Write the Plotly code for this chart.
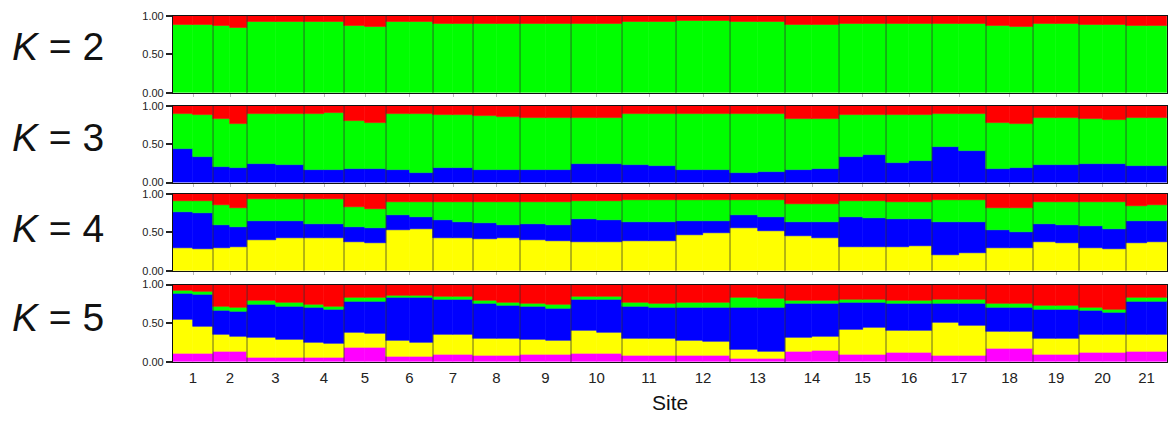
import plotly.graph_objects as go

# ---------------- data ----------------
sites = [str(i) for i in range(1, 22)]
# individuals per site (estimated from block widths)
n_ind = [40, 34, 57, 40, 42, 47, 40, 47, 51, 51, 54, 54, 55, 54, 47, 46, 54, 47, 46, 47, 41]

# cumulative membership boundaries, [first half of site, second half of site]
# K = 2 : green (bottom) upper bound; red fills to 1
k2_green = [[0.88, 0.88], [0.87, 0.84], [0.92, 0.92], [0.92, 0.92], [0.87, 0.86], [0.92, 0.92], [0.90, 0.90],
            [0.90, 0.89], [0.89, 0.89], [0.90, 0.90], [0.92, 0.92], [0.93, 0.93], [0.92, 0.92], [0.88, 0.88],
            [0.89, 0.89], [0.89, 0.89], [0.89, 0.89], [0.87, 0.86], [0.89, 0.89], [0.88, 0.88], [0.87, 0.87]]

# K = 3 : blue (bottom), green, red
k3_blue = [[0.44, 0.34], [0.21, 0.19], [0.25, 0.23], [0.17, 0.17], [0.18, 0.18], [0.16, 0.13], [0.19, 0.19],
           [0.16, 0.16], [0.17, 0.17], [0.25, 0.24], [0.23, 0.22], [0.16, 0.16], [0.13, 0.14], [0.17, 0.18],
           [0.33, 0.36], [0.26, 0.28], [0.46, 0.41], [0.18, 0.19], [0.23, 0.23], [0.24, 0.24], [0.22, 0.22]]
k3_green = [[0.89, 0.88], [0.83, 0.77], [0.90, 0.90], [0.90, 0.91], [0.80, 0.78], [0.90, 0.90], [0.88, 0.88],
            [0.87, 0.86], [0.85, 0.85], [0.85, 0.85], [0.89, 0.89], [0.90, 0.90], [0.90, 0.90], [0.83, 0.83],
            [0.88, 0.88], [0.88, 0.88], [0.89, 0.89], [0.78, 0.77], [0.85, 0.85], [0.83, 0.82], [0.85, 0.85]]

# K = 4 : yellow (bottom), blue, green, red
k4_yellow = [[0.30, 0.28], [0.30, 0.31], [0.40, 0.42], [0.42, 0.42], [0.37, 0.36], [0.53, 0.55], [0.42, 0.42],
             [0.41, 0.42], [0.40, 0.39], [0.38, 0.38], [0.39, 0.39], [0.46, 0.49], [0.56, 0.52], [0.45, 0.43],
             [0.31, 0.31], [0.31, 0.32], [0.21, 0.23], [0.29, 0.29], [0.38, 0.36], [0.29, 0.28], [0.36, 0.37]]
k4_blue = [[0.76, 0.75], [0.60, 0.57], [0.65, 0.65], [0.61, 0.61], [0.57, 0.56], [0.72, 0.70], [0.66, 0.64],
           [0.62, 0.60], [0.61, 0.60], [0.67, 0.66], [0.64, 0.64], [0.65, 0.65], [0.72, 0.70], [0.63, 0.63],
           [0.70, 0.69], [0.67, 0.67], [0.63, 0.63], [0.53, 0.50], [0.61, 0.59], [0.58, 0.55], [0.65, 0.65]]
k4_green = [[0.91, 0.91], [0.86, 0.82], [0.93, 0.93], [0.93, 0.93], [0.83, 0.81], [0.90, 0.90], [0.90, 0.90],
            [0.89, 0.89], [0.90, 0.89], [0.91, 0.91], [0.92, 0.92], [0.92, 0.92], [0.92, 0.92], [0.87, 0.87],
            [0.91, 0.91], [0.90, 0.90], [0.92, 0.92], [0.82, 0.82], [0.90, 0.90], [0.89, 0.89], [0.85, 0.86]]

# K = 5 : magenta (bottom), yellow, blue, green, red
k5_magenta = [[0.11, 0.11], [0.13, 0.14], [0.06, 0.06], [0.06, 0.06], [0.18, 0.18], [0.07, 0.07], [0.10, 0.10],
              [0.08, 0.08], [0.09, 0.09], [0.11, 0.11], [0.08, 0.08], [0.08, 0.08], [0.04, 0.04], [0.14, 0.15],
              [0.09, 0.09], [0.12, 0.12], [0.08, 0.08], [0.17, 0.17], [0.09, 0.09], [0.12, 0.12], [0.14, 0.14]]
k5_yellow = [[0.55, 0.46], [0.35, 0.33], [0.31, 0.29], [0.25, 0.24], [0.38, 0.37], [0.27, 0.25], [0.35, 0.36],
             [0.30, 0.30], [0.29, 0.28], [0.40, 0.38], [0.30, 0.30], [0.27, 0.26], [0.16, 0.14], [0.31, 0.33],
             [0.42, 0.44], [0.41, 0.40], [0.51, 0.47], [0.39, 0.39], [0.30, 0.30], [0.36, 0.36], [0.36, 0.36]]
k5_blue = [[0.88, 0.87], [0.67, 0.65], [0.74, 0.72], [0.70, 0.68], [0.78, 0.78], [0.83, 0.83], [0.80, 0.80],
           [0.75, 0.73], [0.71, 0.69], [0.81, 0.80], [0.71, 0.70], [0.70, 0.70], [0.70, 0.70], [0.75, 0.75],
           [0.77, 0.77], [0.75, 0.75], [0.76, 0.76], [0.70, 0.70], [0.68, 0.68], [0.66, 0.64], [0.78, 0.78]]
k5_green = [[0.92, 0.91], [0.72, 0.70], [0.79, 0.77], [0.74, 0.72], [0.83, 0.83], [0.86, 0.86], [0.85, 0.84],
            [0.79, 0.77], [0.76, 0.74], [0.85, 0.85], [0.77, 0.76], [0.77, 0.77], [0.83, 0.82], [0.79, 0.79],
            [0.81, 0.81], [0.79, 0.79], [0.81, 0.81], [0.75, 0.75], [0.73, 0.73], [0.70, 0.68], [0.83, 0.83]]

RED, GREEN, BLUE, YELLOW, MAGENTA = "#ff0000", "#00ff00", "#0000ff", "#ffff00", "#ff00ff"

panels = [
    ("2", [(k2_green, GREEN), (None, RED)]),
    ("3", [(k3_blue, BLUE), (k3_green, GREEN), (None, RED)]),
    ("4", [(k4_yellow, YELLOW), (k4_blue, BLUE), (k4_green, GREEN), (None, RED)]),
    ("5", [(k5_magenta, MAGENTA), (k5_yellow, YELLOW), (k5_blue, BLUE), (k5_green, GREEN), (None, RED)]),
]
domains = [[0.776, 0.998], [0.517, 0.738], [0.263, 0.484], [0.0, 0.223]]
label_y = [0.908, 0.648, 0.386, 0.127]

# ---------------- geometry from data ----------------
starts = []
acc = 0
for n in n_ind:
    starts.append(acc)
    acc += n
total = acc
centers = [s + n / 2 for s, n in zip(starts, n_ind)]
half_x, half_w = [], []
for s, n in zip(starts, n_ind):
    half_x += [s + n / 4, s + 3 * n / 4]
    half_w += [n / 2, n / 2]

FONT = "Arial, Liberation Sans, sans-serif"
fig = go.Figure()
shapes = []
annotations = []

for r, (kname, layers) in enumerate(panels):
    ax = "" if r == 0 else str(r + 1)
    base = [0.0] * (2 * len(sites))
    for bounds, col in layers:
        if bounds is None:
            top = [1.0] * len(base)
        else:
            top = [v for pair in bounds for v in pair]
        fig.add_trace(go.Bar(
            x=half_x, y=[t - b for t, b in zip(top, base)], base=base, width=half_w,
            marker=dict(color=col, line=dict(color=col, width=0.6)),
            xaxis="x" + ax, yaxis="y" + ax, showlegend=False, hoverinfo="skip"))
        base = top
    for s in starts[1:]:
        shapes.append(dict(type="line", xref="x" + ax, yref="y" + ax + " domain",
                           x0=s, x1=s, y0=0, y1=1,
                           line=dict(color="rgba(40,40,40,0.7)", width=1)))
    bottom = r == len(panels) - 1
    fig.layout["xaxis" + ax] = dict(
        domain=[0, 1], range=[0, total], anchor="y" + ax,
        showline=True, mirror=True, linecolor="#111", linewidth=1.2,
        showgrid=False, zeroline=False,
        tickvals=centers, ticktext=sites if bottom else [""] * len(sites),
        showticklabels=bottom,
        ticks="outside", ticklen=2 if bottom else 3,
        tickcolor="rgba(0,0,0,0)" if bottom else "#bbbbbb",
        tickfont=dict(family=FONT, size=15, color="#222"))
    fig.layout["yaxis" + ax] = dict(
        domain=domains[r], range=[0, 1], anchor="x" + ax,
        showline=True, mirror=True, linecolor="#111", linewidth=1.2,
        showgrid=False, zeroline=False,
        tickvals=[0, 0.5, 1], ticktext=["0.00", "0.50", "1.00"],
        ticks="outside", ticklen=6, tickwidth=1.5, tickcolor="#222",
        tickfont=dict(family=FONT, size=11, color="#222"))
    annotations.append(dict(
        text="<i>K</i> = " + kname, xref="paper", yref="paper",
        x=-0.164, y=label_y[r], xanchor="left", yanchor="middle",
        showarrow=False, font=dict(family=FONT, size=39, color="#111")))

annotations.append(dict(text="Site", xref="paper", yref="paper", x=0.5, y=-0.118,
                        xanchor="center", yanchor="middle", showarrow=False,
                        font=dict(family=FONT, size=21, color="#111")))

fig.update_layout(
    width=1168, height=421, autosize=False,
    margin=dict(l=173, r=1, t=15, b=59),
    barmode="overlay", bargap=0,
    paper_bgcolor="white", plot_bgcolor="white",
    shapes=shapes, annotations=annotations,
)

fig.write_html("out.html")
